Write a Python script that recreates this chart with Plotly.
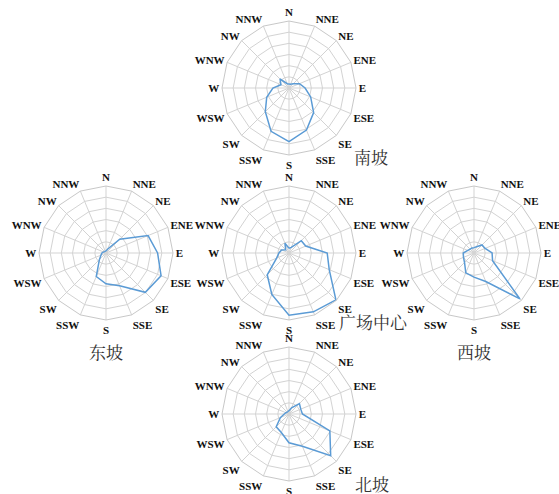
import plotly.graph_objects as go

directions = ["N", "NNE", "NE", "ENE", "E", "ESE", "SE", "SSE",
              "S", "SSW", "SW", "WSW", "W", "WNW", "NW", "NNW"]

# values in ring units (6 rings = outer boundary)
south_slope = [0.36, 0.36, 0.54, 1.02, 1.44, 2.10, 3.12, 4.08,
               4.80, 4.20, 3.00, 2.16, 1.44, 0.78, 1.14, 0.42]
east_slope = [0.18, 0.36, 1.74, 4.08, 4.62, 5.34, 4.98, 3.18,
              2.76, 2.28, 0.84, 0.48, 0.36, 0.24, 0.18, 0.18]
square_center = [0.42, 0.54, 1.56, 1.62, 3.42, 3.90, 5.94, 5.70,
                 5.58, 4.02, 2.76, 1.20, 0.90, 0.72, 0.42, 0.96]
west_slope = [0.48, 0.60, 1.02, 1.08, 1.62, 1.80, 5.82, 2.76,
              2.16, 1.92, 1.20, 1.02, 0.96, 0.60, 0.48, 0.48]
north_slope = [0.30, 0.60, 1.32, 1.14, 1.20, 3.96, 5.28, 3.12,
               2.58, 1.80, 1.62, 0.84, 0.42, 0.30, 0.24, 0.24]

panel_names = ["南坡", "东坡", "广场中心", "西坡", "北坡"]
panel_values = [south_slope, east_slope, square_center, west_slope, north_slope]

W, H = 559, 494
R = 67
centers = [(289, 88), (106, 253), (289, 253), (474, 253), (289, 414)]
label_pos = [(371, 156), (106, 351), (373, 321), (474, 351), (372, 483)]

fig = go.Figure()
for i, (vals, (cx, cy)) in enumerate(zip(panel_values, centers)):
    key = "polar" if i == 0 else f"polar{i+1}"
    fig.add_trace(go.Scatterpolar(
        r=vals + [vals[0]],
        theta=directions + [directions[0]],
        mode="lines",
        line=dict(color="#5b9bd5", width=1.5),
        subplot=key,
        showlegend=False,
        hoverinfo="skip",
    ))
    fig.add_trace(go.Scatterpolar(
        r=[0], theta=[directions[0]], mode="markers",
        marker=dict(color="#aaaaaa", size=4),
        subplot=key, showlegend=False, hoverinfo="skip",
    ))
    fig.update_layout({
        key: dict(
            domain=dict(x=[(cx - R) / W, (cx + R) / W],
                        y=[(H - cy - R) / H, (H - cy + R) / H]),
            gridshape="linear",
            bgcolor="white",
            radialaxis=dict(range=[0, 6], dtick=1, showticklabels=False,
                            ticks="", showline=False,
                            gridcolor="#d3d3d3", gridwidth=1),
            angularaxis=dict(categoryarray=directions, type="category",
                             direction="clockwise", rotation=90,
                             gridcolor="#d3d3d3", gridwidth=1,
                             linecolor="#c8c8c8", linewidth=1,
                             ticks="", showline=True,
                             tickfont=dict(family="Liberation Serif",
                                           size=11, color="#111",
                                           weight="bold")),
        )
    })

for name, (x, y) in zip(panel_names, label_pos):
    fig.add_annotation(x=x / W, y=1 - y / H, xref="paper", yref="paper",
                       xanchor="center", yanchor="middle",
                       text=name, showarrow=False,
                       font=dict(family="Noto Serif CJK SC, Noto Sans CJK SC",
                                 size=17, color="#333"))

fig.update_layout(width=W, height=H, margin=dict(l=0, r=0, t=0, b=0),
                  paper_bgcolor="white", plot_bgcolor="white")
fig.write_html("out.html",
               config={"displayModeBar": False},
               post_script="document.body.style.margin='0';"
                           "document.body.style.overflow='hidden';")
